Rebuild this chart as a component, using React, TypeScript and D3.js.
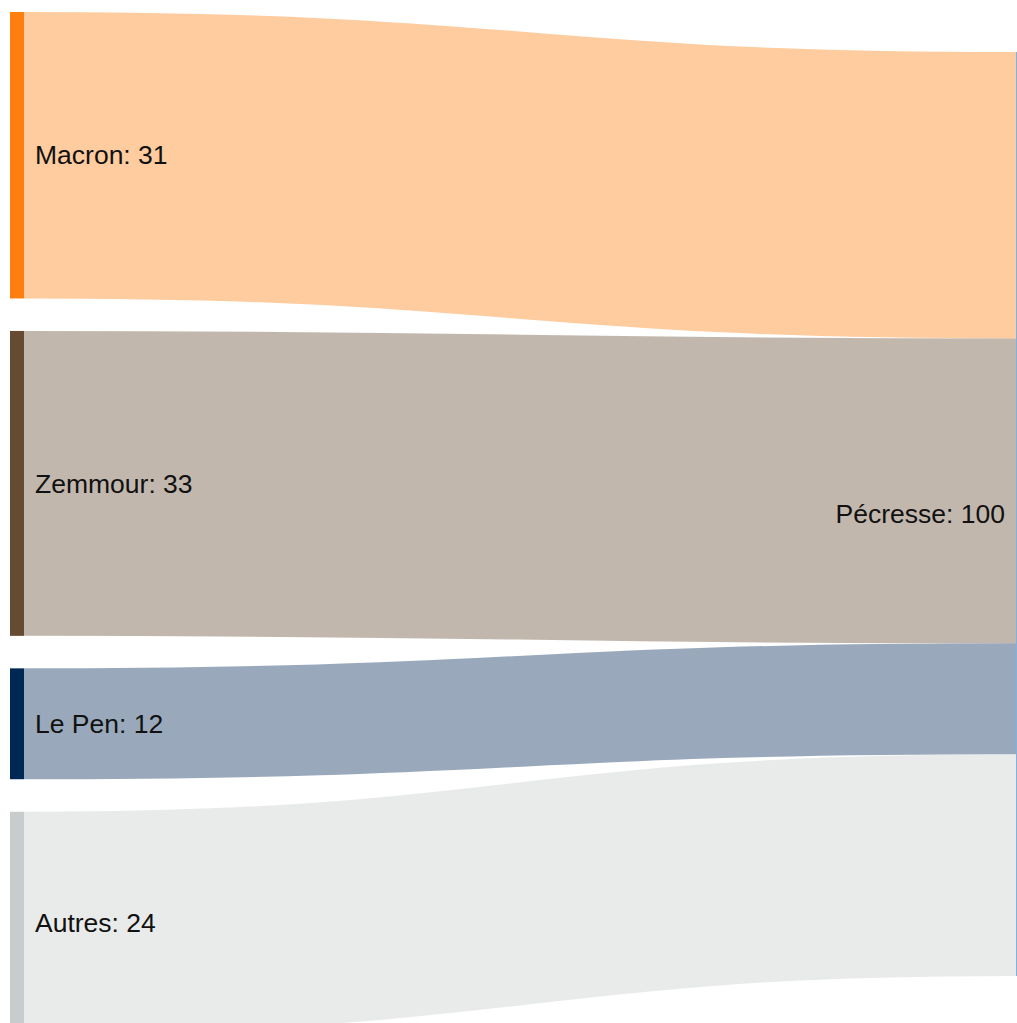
import React from 'react'
import * as d3 from 'd3'

const width = 1017
const height = 1023

// left column nodes (report de voix vers Pécresse)
const sources = ['Macron', 'Zemmour', 'Le Pen', 'Autres']
const values = [31, 33, 12, 24]
const colors = ['#ff7f0e', '#654b32', '#002855', '#c8cccc']
const target = 'Pécresse'
const targetColor = '#7fb2e0'

const nodeWidth = 14
const nodePadding = 32.5
const top = 12
const leftX = 10
const rightX = 1016
const rightTop = 52

const total = d3.sum(values)
const k = 9.24
const y = d3.scaleLinear().domain([0, total]).range([0, total * k])

type Node = { name: string, value: number, color: string, y0: number, y1: number }

function layout(): Node[] {
  let cur = top
  return sources.map((name, i) => {
    const y0 = cur
    const y1 = y0 + y(values[i])
    cur = y1 + nodePadding
    return { name, value: values[i], color: colors[i], y0, y1 }
  })
}

export default function App() {
  const nodes = layout()
  const tY0 = rightTop
  const tY1 = rightTop + y(total)
  const linkFn = d3.linkHorizontal<any, [number, number]>()
    .source(d => d[0])
    .target(d => d[1])

  let ty = tY0
  const links = nodes.map(n => {
    const w = y(n.value)
    const sy = (n.y0 + n.y1) / 2
    const tm = ty + w / 2
    ty += w
    return { n, w, d: linkFn([[leftX + nodeWidth, sy], [rightX, tm]] as any) }
  })

  return (
    <svg
      width={width}
      height={height}
      style={{ position: 'absolute', left: 0, top: 0, display: 'block', overflow: 'hidden', background: '#fff' }}
      fontFamily="'Liberation Sans', Arial, Helvetica, sans-serif"
      fontSize={26.5}
    >
      <g fill="none">
        {links.map(l => (
          <path key={l.n.name} d={l.d || ''} stroke={l.n.color} strokeOpacity={0.4} strokeWidth={l.w} />
        ))}
      </g>
      <g>
        {nodes.map(n => (
          <rect key={n.name} x={leftX} y={n.y0} width={nodeWidth} height={n.y1 - n.y0} fill={n.color} />
        ))}
        <rect x={rightX} y={tY0} width={nodeWidth} height={tY1 - tY0} fill={targetColor} />
      </g>
      <g fill="#111">
        {nodes.map(n => (
          <text key={n.name} x={leftX + nodeWidth + 11} y={(n.y0 + n.y1) / 2} dy="0.35em">
            {`${n.name}: ${n.value}`}
          </text>
        ))}
        <text x={rightX - 11} y={(tY0 + tY1) / 2} dy="0.35em" textAnchor="end">
          {`${target}: ${total}`}
        </text>
      </g>
    </svg>
  )
}
